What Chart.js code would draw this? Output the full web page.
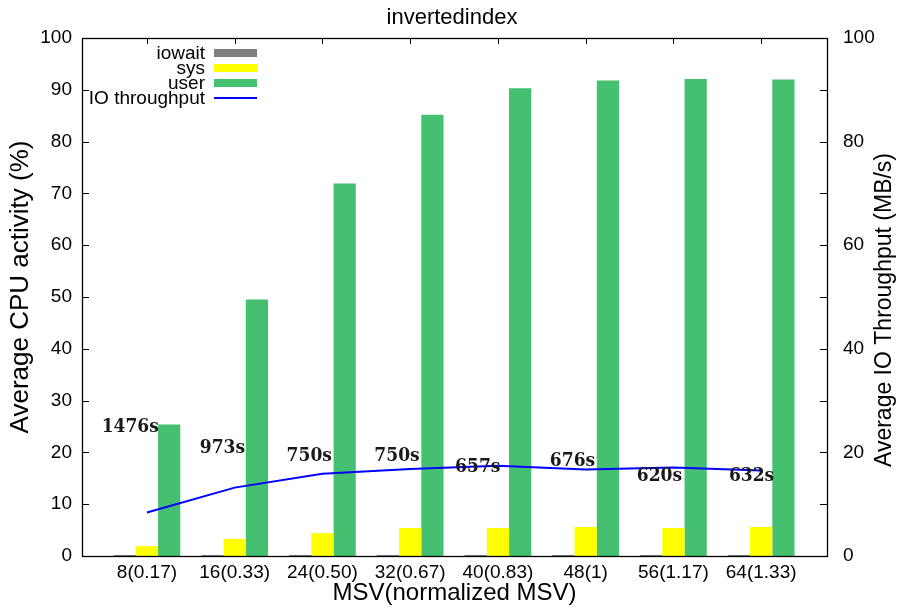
<!DOCTYPE html>
<html><head><meta charset="utf-8">
<script src="https://cdn.jsdelivr.net/npm/chart.js@4.4.1/dist/chart.umd.min.js"></script>
<style>html,body{margin:0;padding:0;background:#fff}canvas{display:block}</style>
</head><body>
<canvas id="c" width="904" height="610"></canvas>
<script>
// ---- data ----
const categories = ["8(0.17)", "16(0.33)", "24(0.50)", "32(0.67)", "40(0.83)", "48(1)", "56(1.17)", "64(1.33)"];
const iowait = [0.2, 0.2, 0.2, 0.2, 0.2, 0.2, 0.2, 0.2];
const sys = [1.9, 3.3, 4.4, 5.4, 5.4, 5.6, 5.4, 5.6];
const user = [25.4, 49.5, 71.9, 85.2, 90.3, 91.8, 92.1, 92.0];
const ioThroughput = [8.4, 13.2, 15.9, 16.8, 17.4, 16.7, 17.1, 16.5];
const runtimeLabels = ["1476s", "973s", "750s", "750s", "657s", "676s", "620s", "632s"];
const runtimeLabelX = [-0.19, 0.86, 1.85, 2.85, 3.77, 4.85, 5.84, 6.89];
const runtimeLabelY = [24.9, 20.8, 19.3, 19.3, 17.2, 18.4, 15.4, 15.4];
const chartTitle = "invertedindex";
const xTitle = "MSV(normalized MSV)";
const yTitle = "Average CPU activity (%)";
const y2Title = "Average IO Throughput (MB/s)";

const SANS = '"Liberation Sans", Arial, Helvetica, sans-serif';
const toXY = arr => arr.map((v, i) => ({ x: i, y: v }));

const framePlugin = {
  id: 'frame',
  beforeDatasetsDraw(chart) {
    const { ctx, chartArea: a, scales } = chart;
    ctx.save();
    ctx.strokeStyle = '#000';
    ctx.lineWidth = 1;
    ctx.beginPath();
    scales.y.ticks.forEach(t => {
      const py = Math.round(scales.y.getPixelForValue(t.value)) + 0.5;
      ctx.moveTo(a.left, py); ctx.lineTo(a.left + 7, py);
      ctx.moveTo(a.right, py); ctx.lineTo(a.right - 7, py);
    });
    scales.x.ticks.forEach(t => {
      const px = Math.round(scales.x.getPixelForValue(t.value)) + 0.5;
      ctx.moveTo(px, a.top); ctx.lineTo(px, a.top + 6);
      ctx.moveTo(px, a.bottom); ctx.lineTo(px, a.bottom - 6);
    });
    ctx.stroke();
    ctx.restore();
  },
  afterDatasetsDraw(chart) {
    const { ctx, chartArea: a, scales } = chart;
    ctx.save();
    // runtime annotations
    ctx.fillStyle = '#1a1a1a';
    ctx.font = 'bold 19px "DejaVu Serif Condensed", "DejaVu Serif", serif';
    ctx.textAlign = 'center';
    ctx.textBaseline = 'middle';
    runtimeLabels.forEach((s, i) => {
      ctx.fillText(s, scales.x.getPixelForValue(runtimeLabelX[i]), scales.y.getPixelForValue(runtimeLabelY[i]));
    });
    // frame
    ctx.strokeStyle = '#000';
    ctx.lineWidth = 1.3;
    ctx.strokeRect(Math.round(a.left) + 0.5, Math.round(a.top) + 0.5, Math.round(a.right - a.left), Math.round(a.bottom - a.top));
    ctx.restore();
  },
  afterDraw(chart) {
    const { ctx, chartArea: a } = chart;
    ctx.save();
    // legend (top-left inside)
    ctx.font = '19px ' + SANS;
    ctx.textAlign = 'right';
    ctx.textBaseline = 'middle';
    chart.data.datasets.forEach((ds, i) => {
      const y = a.top + 15 + i * 15;
      ctx.fillStyle = '#000';
      ctx.fillText(ds.label, a.left + 123, y + 1);
      const x0 = a.left + 132, x1 = a.left + 175;
      if (ds.type === 'line') {
        ctx.strokeStyle = ds.borderColor; ctx.lineWidth = 2;
        ctx.beginPath(); ctx.moveTo(x0, y); ctx.lineTo(x1, y); ctx.stroke();
      } else {
        ctx.fillStyle = ds.backgroundColor;
        ctx.fillRect(x0, y - 4, x1 - x0, 8);
      }
    });
    // y axis titles (both read bottom-to-top)
    ctx.fillStyle = '#000';
    ctx.textAlign = 'center';
    ctx.textBaseline = 'middle';
    ctx.save();
    ctx.font = '26px ' + SANS;
    ctx.translate(21, 287); ctx.rotate(-Math.PI / 2); ctx.fillText(yTitle, 0, 0);
    ctx.restore();
    ctx.save();
    ctx.font = '23px ' + SANS;
    ctx.translate(885, 310); ctx.rotate(-Math.PI / 2); ctx.fillText(y2Title, 0, 0);
    ctx.restore();
    ctx.restore();
  }
};

new Chart(document.getElementById('c'), {
  data: {
    datasets: [
      { type: 'bar', label: 'iowait', data: toXY(iowait), backgroundColor: '#808080', yAxisID: 'y', categoryPercentage: 0.76, barPercentage: 1 },
      { type: 'bar', label: 'sys', data: toXY(sys), backgroundColor: '#ffff00', yAxisID: 'y', categoryPercentage: 0.76, barPercentage: 1 },
      { type: 'bar', label: 'user', data: toXY(user), backgroundColor: '#44c070', yAxisID: 'y', categoryPercentage: 0.76, barPercentage: 1 },
      { type: 'line', label: 'IO throughput', data: toXY(ioThroughput), borderColor: '#0000ff', borderWidth: 2, pointRadius: 0, tension: 0, fill: false, yAxisID: 'y2', order: -1 }
    ]
  },
  options: {
    responsive: false,
    animation: false,
    devicePixelRatio: 1,
    layout: { padding: 0 },
    plugins: {
      legend: { display: false },
      tooltip: { enabled: false },
      title: {
        display: true, text: chartTitle, color: '#000',
        font: { family: SANS, size: 22, weight: 'normal' },
        padding: { top: 5, bottom: 6.6 }
      }
    },
    scales: {
      x: {
        type: 'linear', min: -0.74, max: 7.75, offset: false,
        afterBuildTicks: ax => { ax.ticks = categories.map((c, i) => ({ value: i })); },
        afterFit: ax => { ax.height = 54; },
        grid: { display: false, drawTicks: false, offset: false },
        border: { display: false },
        ticks: {
          callback: v => categories[v] ?? '',
          color: '#000', padding: 5, maxRotation: 0, autoSkip: false,
          font: { family: SANS, size: 19 }
        },
        title: {
          display: true, text: xTitle, color: '#000',
          font: { family: SANS, size: 24 }, padding: { top: 0, bottom: 2 }
        }
      },
      y: {
        position: 'left', min: 0, max: 100,
        afterFit: ax => { ax.width = 82; },
        grid: { display: false, drawTicks: false },
        border: { display: false },
        ticks: { stepSize: 10, padding: 10, color: '#000', font: { family: SANS, size: 19 } }
      },
      y2: {
        position: 'right', min: 0, max: 100,
        afterFit: ax => { ax.width = 77; },
        grid: { display: false, drawTicks: false },
        border: { display: false },
        ticks: { stepSize: 20, padding: 16, color: '#000', font: { family: SANS, size: 19 } }
      }
    }
  },
  plugins: [framePlugin]
});
</script>
</body></html>
